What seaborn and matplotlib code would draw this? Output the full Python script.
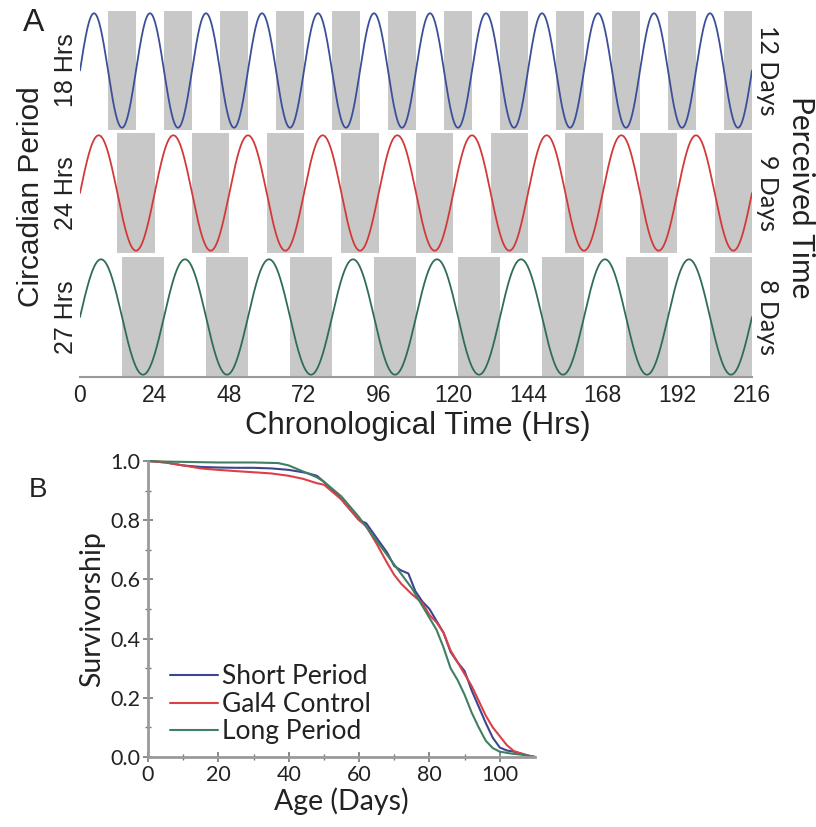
import numpy as np
import pandas as pd
import matplotlib
matplotlib.use("Agg")
import matplotlib.pyplot as plt
import seaborn as sns

# ---------------- data ----------------
periods = [18, 24, 27]                     # circadian period (hrs)
period_labels = ["18 Hrs", "24 Hrs", "27 Hrs"]
perceived_labels = ["12 Days", "9 Days", "8 Days"]
wave_colors = ["#3d4f97", "#d23a3a", "#2f6e52"]
chrono_ticks = [0, 24, 48, 72, 96, 120, 144, 168, 192, 216]

short_age = [0, 5, 10, 15, 20, 25, 30, 35, 40, 45, 48, 50, 55, 60, 62, 65, 68, 70, 72, 74,
             76, 78, 80, 82, 84, 86, 88, 90, 92, 94, 96, 98, 100, 102, 104, 106, 108, 110]
short_surv = [1.0, 0.995, 0.985, 0.98, 0.978, 0.977, 0.977, 0.975, 0.97, 0.96, 0.95, 0.93,
              0.87, 0.80, 0.79, 0.74, 0.69, 0.645, 0.63, 0.62, 0.56, 0.525, 0.50, 0.46,
              0.42, 0.355, 0.32, 0.29, 0.225, 0.17, 0.115, 0.065, 0.032, 0.022, 0.018,
              0.012, 0.005, 0.0]

ctrl_age = [0, 5, 10, 15, 20, 26, 30, 35, 40, 44, 48, 50, 55, 60, 62, 65, 68, 70, 72, 75,
            78, 80, 82, 84, 86, 88, 90, 92, 94, 96, 98, 100, 102, 104, 106, 108, 110]
ctrl_surv = [1.0, 0.995, 0.985, 0.975, 0.97, 0.965, 0.962, 0.958, 0.95, 0.94, 0.925, 0.92,
             0.87, 0.80, 0.78, 0.72, 0.655, 0.615, 0.585, 0.55, 0.52, 0.48, 0.455, 0.42,
             0.36, 0.32, 0.28, 0.24, 0.19, 0.14, 0.10, 0.07, 0.04, 0.02, 0.012, 0.005, 0.0]

long_age = [0, 5, 10, 20, 30, 37, 40, 45, 48, 50, 55, 60, 65, 70, 75, 78, 80, 82, 84, 86,
            88, 90, 92, 94, 96, 98, 100, 103, 106, 110]
long_surv = [1.0, 0.998, 0.997, 0.995, 0.995, 0.993, 0.985, 0.96, 0.945, 0.93, 0.88, 0.81,
             0.73, 0.65, 0.57, 0.51, 0.47, 0.43, 0.37, 0.30, 0.26, 0.21, 0.15, 0.10, 0.055,
             0.03, 0.018, 0.012, 0.008, 0.0]

series_names = ["Short Period", "Gal4 Control", "Long Period"]
surv_colors = ["#3c4690", "#dc4046", "#3f7f62"]

# ---------------- style ----------------
sns.set_theme(style="white")
plt.rcParams["font.family"] = ["Liberation Sans", "DejaVu Sans"]
ARIAL = ["Liberation Sans", "DejaVu Sans"]
MYRIAD = ["Lato", "DejaVu Sans"]

W, H = 816, 827
fig = plt.figure(figsize=(W / 100, H / 100), dpi=100)


def fr(x0, y0, x1, y1):
    return [x0 / W, 1 - y1 / H, (x1 - x0) / W, (y1 - y0) / H]


rows_px = [(11, 130), (133, 253), (257, 377)]
t = np.linspace(0, 216, 2000)
for i, (P, col) in enumerate(zip(periods, wave_colors)):
    y0, y1 = rows_px[i]
    ax = fig.add_axes(fr(80, y0, 752, y1))
    # night shading: second half of each cycle
    k = 0
    while k * P < 216:
        ax.axvspan(k * P + P / 2, min((k + 1) * P, 216), color="#c8c8c8", lw=0, zorder=0)
        k += 1
    df = pd.DataFrame({"t": t, "v": np.sin(2 * np.pi * t / P)})
    sns.lineplot(data=df, x="t", y="v", ax=ax, color=col, lw=1.3, zorder=3)
    ax.set_xlim(0, 216)
    ax.set_ylim(-1.04, 1.04)
    ax.set_yticks([])
    ax.set_xlabel("")
    ax.set_ylabel("")
    for s in ax.spines.values():
        s.set_visible(False)
    if i < 2:
        ax.set_xticks([])
    else:
        ax.spines["bottom"].set_visible(True)
        ax.spines["bottom"].set_color("#9a9a9a")
        ax.spines["bottom"].set_linewidth(1.5)
        ax.set_xticks(chrono_ticks)
        ax.set_xticklabels([str(v) for v in chrono_ticks], fontsize=16.5, family=ARIAL,
                           color="#222222")
        ax.tick_params(axis="x", length=0, pad=5)
    cy = (y0 + y1) / 2
    fig.text(66 / W, 1 - cy / H, period_labels[i], rotation=90, ha="center", va="center",
             fontsize=18, family=ARIAL, color="#222222")
    fig.text(767 / W, 1 - cy / H, perceived_labels[i], rotation=-90, ha="center",
             va="center", fontsize=18, family=MYRIAD, color="#222222")

fig.text(418 / W, 1 - 426 / H, "Chronological Time (Hrs)", ha="center", va="center",
         fontsize=22.5, family=ARIAL, color="#222222")
fig.text(31 / W, 1 - 197 / H, "Circadian Period", rotation=90, ha="center", va="center",
         fontsize=21.5, family=ARIAL, color="#222222")
fig.text(801 / W, 1 - 197 / H, "Perceived Time", rotation=-90, ha="center", va="center",
         fontsize=21.5, family=MYRIAD, color="#222222")
fig.text(34 / W, 1 - 23 / H, "A", ha="center", va="center", fontsize=23, family=ARIAL,
         color="#222222")

# ---------------- panel B ----------------
axb = fig.add_axes(fr(148, 461, 535, 757))
frames = []
for name, a, s in [(series_names[0], short_age, short_surv),
                   (series_names[1], ctrl_age, ctrl_surv),
                   (series_names[2], long_age, long_surv)]:
    frames.append(pd.DataFrame({"Age": a, "Surv": s, "Group": name}))
dfb = pd.concat(frames, ignore_index=True)
sns.lineplot(data=dfb, x="Age", y="Surv", hue="Group", hue_order=series_names,
             palette=surv_colors, ax=axb, lw=1.5, sort=True, estimator=None)
for ln in axb.lines:
    ln.set_clip_on(False)
axb.set_xlim(0, 110)
axb.set_ylim(0, 1.0)
axb.set_xticks([0, 20, 40, 60, 80, 100])
axb.set_xticks(np.arange(10, 110, 20), minor=True)
axb.set_yticks([0.0, 0.2, 0.4, 0.6, 0.8, 1.0])
axb.set_yticks(np.arange(0.1, 1.0, 0.2), minor=True)
axb.set_yticklabels(["0.0", "0.2", "0.4", "0.6", "0.8", "1.0"], family=MYRIAD, fontsize=15.5,
                    color="#222222")
axb.set_xticklabels(["0", "20", "40", "60", "80", "100"], family=MYRIAD, fontsize=15.5,
                    color="#222222")
axb.tick_params(which="major", direction="inout", length=7, width=1.2, color="#777777",
                bottom=True, left=True, pad=2)
axb.tick_params(which="minor", direction="inout", length=4, width=1.0, color="#777777",
                bottom=True, left=True)
for side in ["top", "right"]:
    axb.spines[side].set_visible(False)
for side in ["left", "bottom"]:
    axb.spines[side].set_color("#9a9a9a")
    axb.spines[side].set_linewidth(2)
axb.set_xlabel("Age (Days)", family=MYRIAD, fontsize=20.5, color="#222222", labelpad=2)
axb.set_ylabel("Survivorship", family=MYRIAD, fontsize=20.5, color="#222222", labelpad=4)
handles, labels = axb.get_legend_handles_labels()
leg = axb.legend(handles, labels, loc="lower left", bbox_to_anchor=(0.01, -0.02),
                 frameon=False, prop={"family": MYRIAD, "size": 19}, handlelength=1.8,
                 handletextpad=0.15, labelspacing=0.1, borderpad=0.2)
for t_ in leg.get_texts():
    t_.set_color("#222222")
fig.text(38 / W, 1 - 490 / H, "B", ha="center", va="center", fontsize=20, family=ARIAL,
         color="#222222")

fig.savefig("out.png", dpi=100)
